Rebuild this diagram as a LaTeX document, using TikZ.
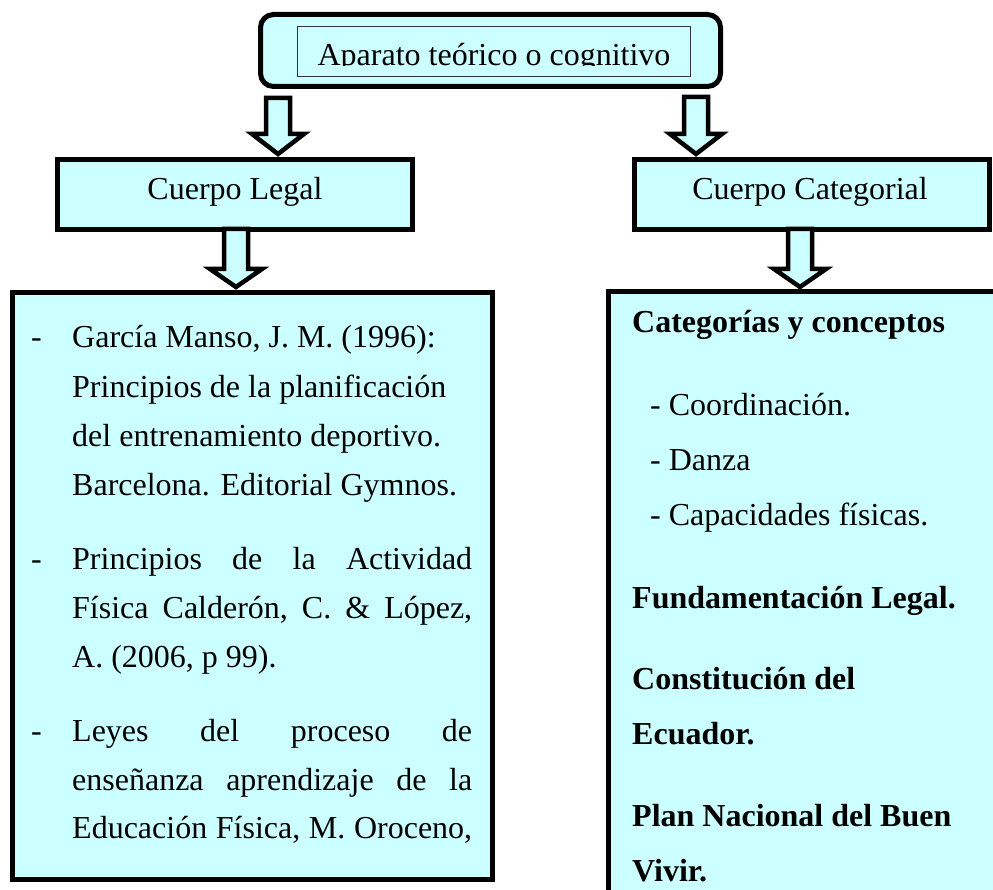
\documentclass[tikz,border=0pt]{standalone}
\usepackage{fontspec}
\setmainfont{Liberation Serif}
\definecolor{cy}{HTML}{CCFFFF}
\newcommand\blockarrow[4]{% x, shaft top, head base, tip
  \draw[barrow] (#1-12,#2) -- (#1+12,#2) -- (#1+12,#3) -- (#1+26,#3) -- (#1,#4)
    -- (#1-26,#3) -- (#1-12,#3) -- cycle;}
\begin{document}
\begin{tikzpicture}[x=1pt,y=-1pt,
  box/.style={draw=black,line width=5pt,fill=cy,inner sep=0pt,outer sep=0pt},
  barrow/.style={draw=black,line width=4.5pt,fill=cy,line join=miter},
  txt/.style={anchor=base west,inner sep=0pt,font=\fontsize{32}{38}\selectfont},
  ctxt/.style={txt,anchor=base},
  btxt/.style={txt,font=\fontsize{32}{38}\selectfont\bfseries}]
\useasboundingbox[fill=white] (0,0) rectangle (993,890);

% top box
\node[box,rounded corners=13pt,minimum width=460pt,minimum height=72pt] (top) at (490.5,50.5) {};
\node[draw=black!80,line width=1.2pt,fill=cy,minimum width=393pt,minimum height=50pt,inner sep=0pt] (topin) at (494,51.5) {};
\begin{scope}
  \clip (298,27) rectangle (690,66);
  \node[ctxt] (toptext) at (494,66) {Aparato teórico o cognitivo};
\end{scope}

% second level
\node[box,minimum width=355pt,minimum height=70pt] (legal) at (235,194.5) {};
\node[ctxt] (legaltext) at (235,200) {Cuerpo Legal};
\node[box,minimum width=355pt,minimum height=70pt] (categ) at (812,194.5) {};
\node[ctxt] (categtext) at (810,200) {Cuerpo Categorial};

% big boxes
\node[box,minimum width=480pt,minimum height=587pt] (left) at (252.5,586) {};
\node[box,minimum width=402pt,minimum height=620pt] (right) at (809.5,601.5) {};

% arrows
\blockarrow{278}{98}{134}{154}
\blockarrow{696}{97}{134}{154}
\blockarrow{236}{229}{269}{287}
\blockarrow{800}{229}{269}{287}

% left box text
\node[txt] (d1) at (31,348) {-};
\node[txt] (l1) at (72,348) {García Manso, J. M. (1996):};
\node[txt] (l2) at (72,397) {Principios de la planificación};
\node[txt] (l3) at (72,446) {del entrenamiento deportivo.};
\node[txt] (l4) at (72,495) {Barcelona. Editorial Gymnos.};
\node[txt] (d2) at (31,569) {-};
\node[txt] (l5) at (72,569) {\hbox to 400pt{Principios\hfill de\hfill la\hfill Actividad}};
\node[txt] (l6) at (72,618) {\hbox to 400pt{Física\hfill Calderón,\hfill C.\hfill \&\hfill López,}};
\node[txt] (l7) at (72,667) {A. (2006, p 99).};
\node[txt] (d3) at (31,741) {-};
\node[txt] (l8) at (72,741) {\hbox to 400pt{Leyes\hfill del\hfill proceso\hfill de}};
\node[txt] (l9) at (72,790) {\hbox to 400pt{enseñanza\hfill aprendizaje\hfill de\hfill la}};
\node[txt] (l10) at (72,838) {\hbox to 400pt{Educación\hfill Física,\hfill M.\hfill Oroceno,}};

% right box text
\node[btxt] (r1) at (632,333) {Categorías y conceptos};
\node[txt] (r2) at (650,415) {- Coordinación.};
\node[txt] (r3) at (650,470) {- Danza};
\node[txt] (r4) at (650,525) {- Capacidades físicas.};
\node[btxt] (r5) at (632,608) {Fundamentación Legal.};
\node[btxt] (r6) at (632,689) {Constitución del};
\node[btxt] (r7) at (632,744) {Ecuador.};
\node[btxt] (r8) at (632,826) {Plan Nacional del Buen};
\node[btxt] (r9) at (632,881) {Vivir.};
\end{tikzpicture}
\end{document}
